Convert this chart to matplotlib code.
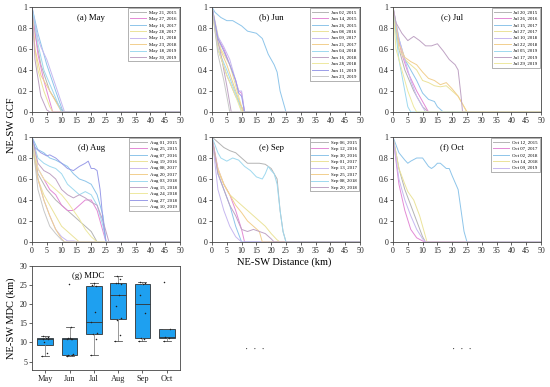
import matplotlib
matplotlib.use("Agg")
import matplotlib.pyplot as plt

plt.rcParams["font.family"] = ["Liberation Serif", "DejaVu Serif"]

# GCF curves: (distance km, GCF) breakpoints per date
MAY_LABELS = ["May 21, 2015", "May 27, 2016", "May 16, 2017", "May 28, 2017",
              "May 11, 2018", "May 23, 2018", "May 18, 2019", "May 30, 2019"]
MAY = [
    [(0, 1), (1, .75), (3, .45), (6, .2), (10, .02), (11, 0)],
    [(0, 1), (2, .55), (4, .3), (6, .1), (7, 0)],
    [(0, 1), (2, .75), (5, .45), (8, .2), (10.5, 0)],
    [(0, .95), (1, .6), (2, .4), (4, .2), (6, .05), (7, 0)],
    [(0, 1), (2, .7), (3, .62), (5, .5), (8, .25), (11, 0)],
    [(0, 1), (1, .6), (3, .35), (5, .25), (8, .1), (10, 0)],
    [(0, 1), (2, .65), (4, .4), (7, .2), (10, 0)],
    [(0, 1), (1, .5), (3, .15), (5, .02), (6, 0)],
]

JUN_LABELS = ["Jun 02, 2015", "Jun 14, 2015", "Jun 26, 2015", "Jun 08, 2016",
              "Jun 09, 2017", "Jun 21, 2017", "Jun 04, 2018", "Jun 16, 2018",
              "Jun 28, 2018", "Jun 11, 2019", "Jun 23, 2019"]
JUN = [
    [(0, 1), (2, .6), (5, .35), (8, .15), (11, 0)],
    [(0, 1), (2, .7), (4, .6), (6, .45), (8, .3), (9, .2), (10, .18), (11, 0)],
    [(0, 1), (1, .95), (3, .9), (5, .87), (7, .87), (10, .82), (12, .77), (15, .75),
     (17, .7), (19, .55), (21, .45), (22, .38), (23, .2), (25, 0)],
    [(0, 1), (3, .6), (6, .45), (8, .25), (10, .05), (10.5, 0)],
    [(0, 1), (2, .72), (4, .62), (6, .5), (8, .3), (9, .2), (10, .2), (11, 0)],
    [(0, 1), (2, .65), (5, .45), (8, .2), (10.5, 0)],
    [(0, 1), (2, .6), (5, .4), (9, .1), (10, 0)],
    [(0, 1), (1, .8), (3, .55), (5, .25), (6.5, 0)],
    [(0, .95), (2, .6), (5, .35), (8, .15), (10, 0)],
    [(0, 1), (2, .7), (4, .58), (6, .45), (8, .3), (9, .18), (10, .15), (11, 0)],
    [(0, 1), (2, .55), (4, .3), (6, 0)],
]

JUL_LABELS = ["Jul 20, 2015", "Jul 26, 2016", "Jul 15, 2017", "Jul 27, 2017",
              "Jul 10, 2018", "Jul 22, 2018", "Jul 05, 2019", "Jul 17, 2019",
              "Jul 29, 2019"]
JUL = [
    [(0, 1), (2, .6), (4, .4), (7, .2), (10, .05), (12, 0)],
    [(0, 1), (1, .8), (3, .55), (5, .38), (8, .2), (10, .1), (12, 0)],
    [(0, 1), (2, .7), (4, .5), (6, .4), (8, .3), (10, .18), (12, .12), (14, .1),
     (15, .05), (17, 0)],
    [(0, .9), (2, .6), (4, .5), (6, .45), (8, .4), (10, .3), (12, .28), (14, .25),
     (16, .24), (18, .25), (20, .2), (22, .15), (24, .05), (25, 0)],
    [(0, 1), (2, .7), (4, .5), (6, .3), (8, .15), (10, .05), (11, 0)],
    [(0, 1), (2, .65), (4, .52), (6, .48), (8, .45), (10, .38), (12, .32), (14, .3),
     (16, .26), (18, .28), (20, .22), (22, .15), (24, .05), (25, 0)],
    [(0, 1), (2, .5), (4, .2), (5, .05), (6, 0)],
    [(0, 1), (1, .85), (3, .75), (5, .68), (7, .72), (9, .68), (11, .63), (13, .63),
     (15, .65), (17, .58), (19, .5), (21, .45), (22, .4), (23, .15), (23.5, 0)],
    [(0, 1), (1, .6), (3, .4), (5, .2), (7, .05), (8, 0)],
]

AUG_LABELS = ["Aug 01, 2015", "Aug 25, 2015", "Aug 07, 2016", "Aug 19, 2016",
              "Aug 08, 2017", "Aug 20, 2017", "Aug 03, 2018", "Aug 15, 2018",
              "Aug 24, 2018", "Aug 27, 2018", "Aug 10, 2019"]
AUG = [
    [(0, 1), (2, .65), (5, .5), (8, .4), (12, .3), (16, .2), (20, .1), (22, 0)],
    [(0, 1), (2, .7), (4, .6), (6, .5), (8, .45), (10, .35), (12, .3), (14, .3),
     (16, .35), (18, .4), (20, .4), (22, .3), (23, .2), (24, .1), (25, 0)],
    [(0, 1), (2, .88), (4, .85), (6, .8), (8, .78), (10, .75), (12, .72), (14, .65),
     (16, .6), (18, .58), (20, .55), (22, .45), (24, .25), (25, 0)],
    [(0, .9), (2, .6), (4, .45), (6, .35), (8, .25), (10, .15), (12, .1), (14, .05), (16, 0)],
    [(0, 1), (2, .6), (4, .4), (6, .25), (8, .12), (10, .05), (12, .01), (14, .01), (16, 0)],
    [(0, 1), (2, .6), (4, .4), (6, .25), (8, .12), (10, .03), (11, 0)],
    [(0, 1), (2, .8), (4, .75), (6, .72), (8, .7), (10, .65), (12, .55), (14, .5),
     (16, .45), (18, .48), (20, .45), (22, .35), (24, .15), (25, 0)],
    [(0, 1), (2, .75), (4, .68), (6, .65), (8, .6), (10, .5), (12, .45), (14, .42),
     (16, .45), (18, .42), (20, .38), (22, .35), (24, .2), (26, 0)],
    [(0, .95), (2, .7), (4, .6), (6, .55), (8, .5), (10, .45), (12, .38), (14, .3),
     (16, .22), (18, .12), (20, .05), (22, 0)],
    [(0, 1), (1, .9), (3, .85), (5, .82), (6, .83), (8, .8), (10, .75), (12, .7),
     (14, .68), (16, .72), (18, .75), (19, .77), (20, .7), (21, .7), (22, .68),
     (23, .5), (24, .2), (25, 0)],
    [(0, 1), (2, .5), (4, .3), (6, .15), (8, .08), (10, .02), (11, 0)],
]

SEP_LABELS = ["Sep 06, 2015", "Sep 12, 2016", "Sep 30, 2016", "Sep 01, 2017",
              "Sep 13, 2017", "Sep 25, 2017", "Sep 08, 2018", "Sep 20, 2018"]
SEP = [
    [(0, 1), (2, .95), (4, .9), (6, .87), (8, .85), (10, .8), (12, .75), (14, .75),
     (16, .75), (18, .74), (20, .7), (21, .65), (22, .6), (23, .3), (24, .1), (25, 0)],
    [(0, 1), (2, .7), (4, .55), (6, .45), (8, .3), (10, .12), (11, 0)],
    [(0, 1), (2, .65), (4, .5), (6, .35), (8, .15), (10, 0)],
    [(0, .9), (2, .7), (4, .55), (6, .45), (8, .4), (10, .35), (12, .3), (14, .25),
     (16, .2), (18, .15), (20, .08), (22, .02), (23, 0)],
    [(0, 1), (2, .5), (4, .3), (6, .15), (8, .05), (10, 0)],
    [(0, 1), (2, .68), (4, .55), (6, .45), (8, .35), (10, .28), (12, .2), (14, .15),
     (16, .1), (17, 0)],
    [(0, 1), (2, .85), (3, .8), (5, .77), (7, .8), (9, .78), (11, .72), (13, .68),
     (15, .62), (17, .6), (18, .65), (19, .72), (20, .68), (21, .65), (22, .55),
     (23, .3), (24, .1), (25, 0)],
    [(0, 1), (2, .65), (4, .5), (6, .35), (8, .25), (10, .12), (12, .1), (14, .12),
     (16, .1), (18, .08), (20, .03), (21, 0)],
]

OCT_LABELS = ["Oct 12, 2015", "Oct 07, 2017", "Oct 02, 2018", "Oct 14, 2018",
              "Oct 09, 2019"]
OCT = [
    [(0, 1), (2, .7), (4, .5), (6, .35), (8, .2), (10, .05), (11, 0)],
    [(0, 1), (2, .55), (4, .3), (6, .12), (8, .04), (10, .01), (11, 0)],
    [(0, 1), (2, .85), (4, .78), (5, .75), (6, .77), (8, .8), (10, .8), (12, .72),
     (13, .7), (14, .72), (15, .75), (16, .75), (18, .7), (19, .7), (20, .63),
     (22, .5), (23, .3), (24, .1), (25, 0)],
    [(0, 1), (2, .7), (4, .55), (5, .48), (7, .4), (9, .25), (11, .05), (11.5, 0)],
    [(0, 1), (2, .6), (4, .4), (6, .25), (8, .12), (10, .03), (11, 0)],
]

# MDC (km) per month, box plot panel
MONTHS = ["May", "Jun", "Jul", "Aug", "Sep", "Oct"]
MDC_MAY = [6.5, 7.3, 10.0, 11.0, 11.0, 11.2, 11.5, 11.8]
MDC_JUN = [6.5, 6.6, 6.7, 7.0, 10.8, 11.0, 11.0, 11.1, 11.2, 14.1, 25.2]
MDC_JUL = [6.6, 11.0, 12.2, 12.5, 15.4, 18.0, 24.7, 25.0, 25.5]
MDC_AUG = [10.5, 11.9, 16.0, 16.4, 19.5, 22.3, 25.4, 25.5, 25.6, 26.5, 27.4]
MDC_SEP = [10.5, 10.8, 11.2, 17.8, 22.5, 25.2, 25.5, 25.7]
MDC_OCT = [10.5, 11.2, 11.5, 13.6, 25.8]

COLORS = ["#b4b4b4", "#e38ad6", "#8ec5ea", "#ebe39a", "#c7b8f0", "#f2cf8e",
          "#9fd9ef", "#bfa3c4", "#eee9a0", "#9a9ce8", "#c8c8c8"]

W, H = 550, 387
SPINE = "#444444"


def frac(l, t, r, b):
    return [l / W, 1 - b / H, (r - l) / W, (b - t) / H]


def style(ax):
    for s in ax.spines.values():
        s.set_color(SPINE); s.set_linewidth(0.6)
    ax.tick_params(direction="out", length=2, width=0.5, pad=1.5,
                   labelsize=5.7, colors="#222222")


def gcf_panel(fig, rect, title, labels, curves):
    ax = fig.add_axes(rect)
    for i, (lab, pts) in enumerate(zip(labels, curves)):
        xs = [p[0] for p in pts] + [50]
        ys = [p[1] for p in pts] + [0]
        ax.plot(xs, ys, color=COLORS[i], lw=0.7, label=lab)
    ax.set_xlim(0, 50); ax.set_ylim(0, 1)
    ax.set_xticks(range(0, 51, 5))
    ax.set_yticks([0, .2, .4, .6, .8, 1])
    ax.set_yticklabels(["0", "0.2", "0.4", "0.6", "0.8", "1"])
    ax.text(0.4, 0.88, title, transform=ax.transAxes, ha="center", fontsize=6.3)
    leg = ax.legend(loc="upper right", fontsize=3.5, handlelength=3.4,
                    labelspacing=0.4, borderpad=0.35, handletextpad=0.6,
                    borderaxespad=0.3, fancybox=False, framealpha=1)
    leg.get_frame().set_edgecolor("#777777"); leg.get_frame().set_linewidth(0.4)
    style(ax)
    return ax


fig = plt.figure(figsize=(5.5, 3.87), dpi=100)

cols = [(32, 180), (212, 360), (393, 541)]
rows = [(7, 112), (137, 242)]
panels = [("(a) May", MAY_LABELS, MAY), ("(b) Jun", JUN_LABELS, JUN),
          ("(c) Jul", JUL_LABELS, JUL), ("(d) Aug", AUG_LABELS, AUG),
          ("(e) Sep", SEP_LABELS, SEP), ("(f) Oct", OCT_LABELS, OCT)]
for k, (title, labels, curves) in enumerate(panels):
    l, r = cols[k % 3]; t, b = rows[k // 3]
    gcf_panel(fig, frac(l, t, r, b), title, labels, curves)

fig.text(12 / W, 1 - 125 / H, "NE-SW GCF", rotation=90, ha="center", va="center",
         fontsize=7.5)
fig.text(284 / W, 1 - 262 / H, "NE-SW Distance (km)", ha="center", va="center",
         fontsize=7.5)

# (g) MDC box plot
ax = fig.add_axes(frac(32, 266, 180, 370))
data = [MDC_MAY, MDC_JUN, MDC_JUL, MDC_AUG, MDC_SEP, MDC_OCT]
pos = list(range(1, len(MONTHS) + 1))
ax.boxplot(data, positions=pos, widths=0.65, patch_artist=True, showfliers=False,
           boxprops=dict(facecolor="#1ea0f0", edgecolor="#333333", linewidth=0.6),
           medianprops=dict(color="#333333", linewidth=0.6),
           whiskerprops=dict(color="#888888", linewidth=0.6),
           capprops=dict(color="#555555", linewidth=0.6))
offs = [-0.12, 0.08, -0.05, 0.12, -0.1, 0.04, 0.1, -0.08, 0.0, 0.06, -0.03]
for p, vals in zip(pos, data):
    ax.scatter([p + offs[j % len(offs)] for j in range(len(vals))], vals,
               s=1.2, color="#222222", zorder=3, linewidths=0)
ax.set_xlim(0.45, 6.55); ax.set_ylim(2.8, 30)
ax.set_xticks(pos); ax.set_xticklabels(MONTHS)
ax.set_yticks([5, 10, 15, 20, 25, 30])
ax.text(0.38, 0.88, "(g) MDC", transform=ax.transAxes, ha="center", fontsize=6.3)
ax.set_ylabel("NE-SW MDC (km)", fontsize=7.5, labelpad=2)
style(ax)
ax.tick_params(axis="x", labelsize=6)

fig.text(255 / W, 1 - 350 / H, "\u00b7  \u00b7  \u00b7", ha="center", va="center",
         fontsize=7, color="#333333")
fig.text(462 / W, 1 - 350 / H, "\u00b7  \u00b7  \u00b7", ha="center", va="center",
         fontsize=7, color="#333333")

fig.savefig("out.png", dpi=100)
